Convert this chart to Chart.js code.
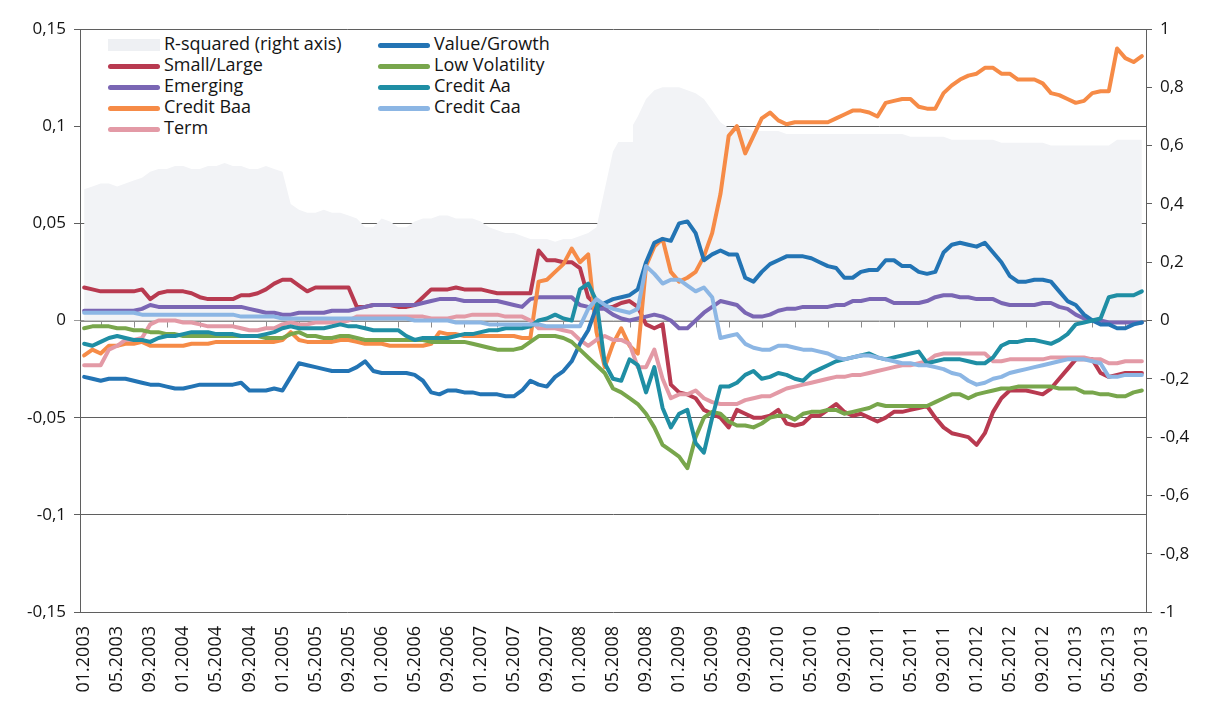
<!DOCTYPE html>
<html>
<head>
<meta charset="utf-8">
<title>Factor exposures 2003-2013</title>
<script src="https://cdn.jsdelivr.net/npm/chart.js@4.4.1/dist/chart.umd.min.js"></script>
<style>
  body { margin: 0; background: #fff; }
  #wrap { position: relative; width: 1209px; height: 710px; }
  #legend { position: absolute; background: #fff; font-family: 'Open Sans', sans-serif; font-size: 18px; color: #141414; }
  .item { position: absolute; height: 21px; line-height: 21px; white-space: nowrap; }
  .swatch { display: inline-block; width: 52px; height: 5px; border-radius: 3px; vertical-align: middle; margin-right: 4px; }
</style>
</head>
<body>
<div id="wrap">
  <canvas id="myChart" width="1209" height="710"></canvas>
  <div id="legend"></div>
</div>
<script>
'use strict';

// monthly points, 01.2003 - 09.2013
let months = [];
for (let y = 2003; y <= 2013; y++) {
  for (let m = 1; m <= 12; m++) {
    if (y === 2013 && m > 9) break;
    months.push((m < 10 ? '0' + m : '' + m) + '.' + y);
  }
}

let leftTickValues = [-0.15, -0.1, -0.05, 0, 0.05, 0.1, 0.15];
let leftTickLabels = ['-0,15', '-0,1', '-0,05', '0', '0,05', '0,1', '0,15'];
let rightTickValues = [-1, -0.8, -0.6, -0.4, -0.2, 0, 0.2, 0.4, 0.6, 0.8, 1];
let rightTickLabels = ['-1', '-0,8', '-0,6', '-0,4', '-0,2', '0', '0,2', '0,4', '0,6', '0,8', '1'];

// right axis
let rSquared = [
  0.45, 0.46, 0.47, 0.47, 0.46, 0.47, 0.48, 0.49, 0.51, 0.52, 0.52, 0.53,
  0.53, 0.52, 0.52, 0.53, 0.53, 0.54, 0.53, 0.53, 0.52, 0.52, 0.53, 0.52,
  0.51, 0.40, 0.38, 0.37, 0.37, 0.38, 0.37, 0.37, 0.36, 0.35, 0.32, 0.32,
  0.35, 0.34, 0.32, 0.32, 0.34, 0.35, 0.35, 0.36, 0.36, 0.35, 0.35, 0.35,
  0.34, 0.32, 0.31, 0.30, 0.30, 0.29, 0.28, 0.28, 0.28, 0.27, 0.28, 0.28,
  0.29, 0.30, 0.32, 0.45, 0.58, 0.63, 0.65, 0.70, 0.76, 0.79, 0.80, 0.80,
  0.80, 0.79, 0.78, 0.76, 0.72, 0.68, 0.66, 0.66, 0.66, 0.65, 0.65, 0.65,
  0.65, 0.64, 0.64, 0.64, 0.64, 0.64, 0.64, 0.64, 0.64, 0.64, 0.64, 0.64,
  0.64, 0.64, 0.64, 0.64, 0.63, 0.63, 0.63, 0.63, 0.63, 0.62, 0.62, 0.62,
  0.62, 0.62, 0.62, 0.61, 0.61, 0.61, 0.61, 0.61, 0.61, 0.60, 0.60, 0.60,
  0.60, 0.60, 0.60, 0.60, 0.60, 0.62, 0.62, 0.62, 0.62
];

// left axis
let smallLarge = [
  0.017, 0.016, 0.015, 0.015, 0.015, 0.015, 0.015, 0.016, 0.011, 0.014, 0.015, 0.015,
  0.015, 0.014, 0.012, 0.011, 0.011, 0.011, 0.011, 0.013, 0.013, 0.014, 0.016, 0.019,
  0.021, 0.021, 0.018, 0.015, 0.017, 0.017, 0.017, 0.017, 0.017, 0.007, 0.007, 0.008,
  0.008, 0.008, 0.007, 0.007, 0.008, 0.012, 0.016, 0.016, 0.016, 0.017, 0.016, 0.016,
  0.016, 0.015, 0.014, 0.014, 0.014, 0.014, 0.014, 0.036, 0.031, 0.031, 0.030, 0.030,
  0.027, 0.012, 0.008, 0.007, 0.007, 0.009, 0.010, 0.007, -0.002, -0.004, -0.002, -0.033,
  -0.037, -0.038, -0.040, -0.046, -0.048, -0.050, -0.055, -0.046, -0.048, -0.050, -0.050, -0.049,
  -0.046, -0.053, -0.054, -0.053, -0.049, -0.049, -0.046, -0.043, -0.047, -0.049, -0.048, -0.050,
  -0.052, -0.050, -0.047, -0.047, -0.046, -0.045, -0.044, -0.050, -0.055, -0.058, -0.059, -0.060,
  -0.064, -0.058, -0.047, -0.040, -0.036, -0.036, -0.036, -0.037, -0.038, -0.035, -0.030, -0.025,
  -0.020, -0.020, -0.020, -0.027, -0.029, -0.028, -0.027, -0.027, -0.027
];

let emerging = [
  0.005, 0.005, 0.005, 0.005, 0.005, 0.005, 0.005, 0.006, 0.008, 0.007, 0.007, 0.007,
  0.007, 0.007, 0.007, 0.007, 0.007, 0.007, 0.007, 0.007, 0.006, 0.005, 0.004, 0.004,
  0.003, 0.003, 0.004, 0.004, 0.004, 0.004, 0.005, 0.005, 0.005, 0.006, 0.007, 0.008,
  0.008, 0.008, 0.008, 0.008, 0.008, 0.009, 0.010, 0.011, 0.011, 0.011, 0.010, 0.010,
  0.010, 0.010, 0.010, 0.009, 0.008, 0.007, 0.011, 0.012, 0.012, 0.012, 0.012, 0.012,
  0.008, 0.007, 0.006, 0.006, 0.003, 0.001, 0.000, 0.001, 0.002, 0.003, 0.002, 0.000,
  -0.004, -0.004, 0.000, 0.004, 0.007, 0.010, 0.009, 0.008, 0.004, 0.002, 0.002, 0.003,
  0.005, 0.006, 0.006, 0.007, 0.007, 0.007, 0.007, 0.008, 0.008, 0.010, 0.010, 0.011,
  0.011, 0.011, 0.009, 0.009, 0.009, 0.009, 0.010, 0.012, 0.013, 0.013, 0.012, 0.012,
  0.011, 0.011, 0.011, 0.009, 0.008, 0.008, 0.008, 0.008, 0.009, 0.009, 0.007, 0.006,
  0.003, 0.001, 0.000, 0.000, -0.001, -0.001, -0.001, -0.001, -0.001
];

let creditBaa = [
  -0.018, -0.015, -0.017, -0.013, -0.013, -0.012, -0.012, -0.011, -0.013, -0.013, -0.013, -0.013,
  -0.013, -0.012, -0.012, -0.012, -0.011, -0.011, -0.011, -0.011, -0.011, -0.011, -0.011, -0.011,
  -0.010, -0.006, -0.010, -0.011, -0.011, -0.011, -0.011, -0.010, -0.010, -0.011, -0.012, -0.012,
  -0.012, -0.013, -0.013, -0.013, -0.013, -0.013, -0.012, -0.006, -0.007, -0.007, -0.008, -0.008,
  -0.008, -0.008, -0.008, -0.008, -0.008, -0.009, -0.009, 0.020, 0.021, 0.025, 0.029, 0.037,
  0.030, 0.034, -0.006, -0.024, -0.012, -0.004, -0.013, -0.017, 0.028, 0.038, 0.042, 0.025,
  0.020, 0.022, 0.025, 0.033, 0.045, 0.065, 0.095, 0.100, 0.086, 0.095, 0.104, 0.107,
  0.103, 0.101, 0.102, 0.102, 0.102, 0.102, 0.102, 0.104, 0.106, 0.108, 0.108, 0.107,
  0.105, 0.112, 0.113, 0.114, 0.114, 0.110, 0.109, 0.109, 0.117, 0.121, 0.124, 0.126,
  0.127, 0.130, 0.130, 0.127, 0.127, 0.124, 0.124, 0.124, 0.122, 0.117, 0.116, 0.114,
  0.112, 0.113, 0.117, 0.118, 0.118, 0.140, 0.135, 0.133, 0.136
];

let term = [
  -0.023, -0.023, -0.023, -0.015, -0.013, -0.010, -0.010, -0.009, -0.002, 0.000, 0.000, 0.000,
  -0.001, -0.001, -0.002, -0.003, -0.003, -0.003, -0.003, -0.004, -0.005, -0.005, -0.004, -0.004,
  -0.002, -0.001, -0.002, -0.002, -0.001, -0.001, -0.001, -0.001, 0.000, 0.002, 0.002, 0.002,
  0.002, 0.002, 0.002, 0.002, 0.002, 0.002, 0.001, 0.001, 0.001, 0.002, 0.002, 0.003,
  0.003, 0.003, 0.003, 0.002, 0.002, 0.002, 0.000, -0.004, -0.004, -0.004, -0.005, -0.006,
  -0.010, -0.013, -0.010, -0.008, -0.010, -0.010, -0.012, -0.024, -0.024, -0.015, -0.030, -0.040,
  -0.038, -0.038, -0.036, -0.040, -0.042, -0.043, -0.043, -0.043, -0.041, -0.040, -0.039, -0.039,
  -0.037, -0.035, -0.034, -0.033, -0.032, -0.031, -0.030, -0.029, -0.029, -0.028, -0.028, -0.027,
  -0.026, -0.025, -0.024, -0.023, -0.023, -0.022, -0.021, -0.018, -0.017, -0.017, -0.017, -0.017,
  -0.017, -0.017, -0.021, -0.021, -0.020, -0.020, -0.020, -0.020, -0.020, -0.019, -0.019, -0.019,
  -0.019, -0.019, -0.020, -0.020, -0.022, -0.022, -0.021, -0.021, -0.021
];

let valueGrowth = [
  -0.029, -0.030, -0.031, -0.030, -0.030, -0.030, -0.031, -0.032, -0.033, -0.033, -0.034, -0.035,
  -0.035, -0.034, -0.033, -0.033, -0.033, -0.033, -0.033, -0.032, -0.036, -0.036, -0.036, -0.035,
  -0.036, -0.029, -0.022, -0.023, -0.024, -0.025, -0.026, -0.026, -0.026, -0.024, -0.021, -0.026,
  -0.027, -0.027, -0.027, -0.027, -0.028, -0.031, -0.037, -0.038, -0.036, -0.036, -0.037, -0.037,
  -0.038, -0.038, -0.038, -0.039, -0.039, -0.036, -0.031, -0.033, -0.034, -0.029, -0.026, -0.021,
  -0.012, -0.005, 0.007, 0.009, 0.011, 0.012, 0.013, 0.016, 0.030, 0.040, 0.042, 0.041,
  0.050, 0.051, 0.045, 0.031, 0.034, 0.036, 0.034, 0.034, 0.022, 0.020, 0.025, 0.029,
  0.031, 0.033, 0.033, 0.033, 0.032, 0.030, 0.028, 0.027, 0.022, 0.022, 0.025, 0.026,
  0.026, 0.031, 0.031, 0.028, 0.028, 0.025, 0.024, 0.025, 0.035, 0.039, 0.040, 0.039,
  0.038, 0.040, 0.035, 0.030, 0.023, 0.020, 0.020, 0.021, 0.021, 0.020, 0.015, 0.010,
  0.008, 0.003, 0.000, -0.002, -0.002, -0.004, -0.004, -0.002, -0.001
];

let lowVolatility = [
  -0.004, -0.003, -0.003, -0.003, -0.004, -0.004, -0.005, -0.005, -0.006, -0.006, -0.007, -0.007,
  -0.008, -0.008, -0.008, -0.008, -0.008, -0.008, -0.008, -0.008, -0.008, -0.008, -0.009, -0.009,
  -0.009, -0.007, -0.006, -0.008, -0.008, -0.009, -0.009, -0.008, -0.008, -0.009, -0.010, -0.010,
  -0.010, -0.010, -0.010, -0.010, -0.010, -0.010, -0.011, -0.011, -0.011, -0.011, -0.011, -0.012,
  -0.013, -0.014, -0.015, -0.015, -0.015, -0.014, -0.011, -0.008, -0.008, -0.008, -0.009, -0.011,
  -0.015, -0.019, -0.023, -0.027, -0.035, -0.037, -0.040, -0.043, -0.048, -0.055, -0.064, -0.067,
  -0.070, -0.076, -0.060, -0.050, -0.047, -0.048, -0.052, -0.054, -0.054, -0.055, -0.053, -0.050,
  -0.049, -0.049, -0.051, -0.048, -0.047, -0.047, -0.046, -0.046, -0.048, -0.047, -0.046, -0.045,
  -0.043, -0.044, -0.044, -0.044, -0.044, -0.044, -0.044, -0.042, -0.040, -0.038, -0.038, -0.040,
  -0.038, -0.037, -0.036, -0.035, -0.035, -0.034, -0.034, -0.034, -0.034, -0.034, -0.035, -0.035,
  -0.035, -0.037, -0.037, -0.038, -0.038, -0.039, -0.039, -0.037, -0.036
];

let creditAa = [
  -0.012, -0.013, -0.011, -0.009, -0.008, -0.009, -0.010, -0.010, -0.011, -0.009, -0.008, -0.008,
  -0.007, -0.006, -0.006, -0.006, -0.007, -0.007, -0.007, -0.008, -0.008, -0.008, -0.007, -0.006,
  -0.004, -0.003, -0.004, -0.004, -0.004, -0.004, -0.003, -0.002, -0.003, -0.003, -0.004, -0.005,
  -0.005, -0.005, -0.005, -0.008, -0.010, -0.009, -0.009, -0.009, -0.009, -0.008, -0.007, -0.007,
  -0.006, -0.005, -0.005, -0.004, -0.004, -0.004, -0.003, 0.000, 0.001, 0.003, 0.001, 0.000,
  0.016, 0.019, 0.010, -0.022, -0.030, -0.031, -0.020, -0.023, -0.037, -0.024, -0.045, -0.055,
  -0.048, -0.046, -0.063, -0.068, -0.050, -0.034, -0.034, -0.032, -0.028, -0.026, -0.030, -0.029,
  -0.027, -0.028, -0.030, -0.031, -0.027, -0.025, -0.023, -0.021, -0.020, -0.019, -0.018, -0.017,
  -0.019, -0.020, -0.019, -0.018, -0.017, -0.016, -0.022, -0.021, -0.020, -0.020, -0.020, -0.021,
  -0.022, -0.022, -0.019, -0.013, -0.011, -0.011, -0.010, -0.010, -0.011, -0.012, -0.010, -0.007,
  -0.002, -0.001, 0.000, 0.001, 0.012, 0.013, 0.013, 0.013, 0.015
];

let creditCaa = [
  0.004, 0.004, 0.004, 0.004, 0.004, 0.004, 0.004, 0.003, 0.003, 0.003, 0.003, 0.003,
  0.003, 0.003, 0.003, 0.003, 0.003, 0.003, 0.003, 0.002, 0.002, 0.002, 0.002, 0.002,
  0.001, 0.001, 0.001, 0.001, 0.001, 0.001, 0.001, 0.001, 0.001, 0.001, 0.001, 0.001,
  0.001, 0.001, 0.001, 0.001, 0.000, 0.000, 0.000, 0.000, 0.000, -0.001, -0.001, -0.001,
  -0.001, -0.002, -0.002, -0.002, -0.002, -0.002, -0.002, -0.002, -0.003, -0.003, -0.003, -0.003,
  -0.003, 0.006, 0.011, 0.008, 0.006, 0.005, 0.004, 0.006, 0.028, 0.024, 0.019, 0.021,
  0.021, 0.018, 0.015, 0.017, 0.012, -0.009, -0.008, -0.007, -0.012, -0.014, -0.015, -0.015,
  -0.013, -0.013, -0.014, -0.015, -0.015, -0.016, -0.017, -0.019, -0.020, -0.019, -0.018, -0.018,
  -0.019, -0.020, -0.021, -0.022, -0.022, -0.023, -0.023, -0.024, -0.025, -0.027, -0.028, -0.031,
  -0.033, -0.032, -0.030, -0.029, -0.027, -0.026, -0.025, -0.024, -0.023, -0.022, -0.021, -0.020,
  -0.020, -0.020, -0.021, -0.022, -0.029, -0.029, -0.028, -0.028, -0.028
];

function lineSet(label, data, color, order) {
  return {
    type: 'line',
    label: label,
    data: data,
    borderColor: color,
    backgroundColor: color,
    borderWidth: 4,
    borderJoinStyle: 'round',
    borderCapStyle: 'round',
    pointRadius: 0,
    fill: false,
    tension: 0,
    yAxisID: 'y',
    order: order
  };
}

// x axis line sits on zero, ticks every 4 months
const zeroAxis = {
  id: 'zeroAxis',
  afterDatasetDraw(chart, args) {
    if (args.index !== 0) return;
    const { ctx, chartArea, scales } = chart;
    const y0 = Math.round(scales.y.getPixelForValue(0)) + 0.5;
    ctx.save();
    ctx.strokeStyle = '#8c8c8c';
    ctx.lineWidth = 1;
    ctx.beginPath();
    ctx.moveTo(chartArea.left, y0);
    ctx.lineTo(chartArea.right, y0);
    for (let i = 2; i < months.length; i += 4) {
      const x = Math.round(scales.x.getPixelForValue(i)) + 0.5;
      ctx.moveTo(x, y0);
      ctx.lineTo(x, y0 + 6);
    }
    ctx.stroke();
    ctx.restore();
  }
};

const tickFont = { family: 'Open Sans', size: 17 };

const ctx = document.getElementById('myChart');

let chart = new Chart(ctx, {
  type: 'line',
  data: {
    labels: months,
    datasets: [
      {
        type: 'line',
        label: 'R-squared (right axis)',
        data: rSquared,
        yAxisID: 'y1',
        fill: 'origin',
        backgroundColor: '#f2f3f6',
        borderColor: '#f2f3f6',
        borderWidth: 0,
        pointRadius: 0,
        tension: 0,
        order: 20
      },
      lineSet('Small/Large', smallLarge, '#b83a50', 9),
      lineSet('Emerging', emerging, '#7a66b4', 8),
      lineSet('Credit Baa', creditBaa, '#f68b47', 7),
      lineSet('Term', term, '#e39aa6', 6),
      lineSet('Value/Growth', valueGrowth, '#2374b4', 5),
      lineSet('Low Volatility', lowVolatility, '#78a64c', 4),
      lineSet('Credit Aa', creditAa, '#1f8ea4', 3),
      lineSet('Credit Caa', creditCaa, '#8cb6e4', 2)
    ]
  },
  options: {
    responsive: false,
    animation: false,
    layout: { padding: { top: 29, left: 0, right: 0, bottom: 0 } },
    plugins: {
      legend: { display: false },
      tooltip: { enabled: false }
    },
    scales: {
      x: {
        offset: true,
        afterFit: function(scale) { scale.height = 98; },
        grid: { display: false },
        border: { display: false },
        ticks: {
          autoSkip: false,
          maxRotation: 90,
          minRotation: 90,
          padding: 6,
          color: '#141414',
          font: { family: 'Open Sans', size: 18 },
          callback: function(value, index) {
            return index % 4 === 0 ? months[index] : '';
          }
        }
      },
      y: {
        position: 'left',
        min: -0.15,
        max: 0.15,
        afterBuildTicks: function(scale) {
          scale.ticks = leftTickValues.map(function(v) { return { value: v }; });
        },
        afterFit: function(scale) { scale.width = 80; },
        ticks: {
          padding: 8,
          color: '#141414',
          font: tickFont,
          callback: function(value, index) { return leftTickLabels[index]; }
        },
        grid: {
          tickLength: 6,
          color: function(c) {
            return c.tick && c.tick.value === 0 ? '#9a9a9a' : '#5f5f5f';
          }
        },
        border: { color: '#5f5f5f' }
      },
      y1: {
        position: 'right',
        min: -1,
        max: 1,
        afterBuildTicks: function(scale) {
          scale.ticks = rightTickValues.map(function(v) { return { value: v }; });
        },
        afterFit: function(scale) { scale.width = 63; },
        ticks: {
          padding: 8,
          color: '#141414',
          font: tickFont,
          callback: function(value, index) { return rightTickLabels[index]; }
        },
        grid: { drawOnChartArea: false, tickLength: 6, color: '#5f5f5f' },
        border: { color: '#5f5f5f' }
      }
    }
  },
  plugins: [zeroAxis]
});

// legend box in two columns, white background like the original
function renderLegend(chart) {
  let box = document.getElementById('legend');
  let area = chart.chartArea;
  box.style.left = (area.left + 1) + 'px';
  box.style.top = (area.top + 1) + 'px';
  box.style.width = '552px';
  box.style.height = '112px';
  chart.data.datasets.forEach(function(ds, i) {
    let col = i < 5 ? 0 : 1;
    let row = i < 5 ? i : i - 5;
    let item = document.createElement('div');
    item.className = 'item';
    item.style.left = (col === 0 ? 27 : 297) + 'px';
    item.style.top = (3 + row * 21) + 'px';
    let sw = document.createElement('span');
    sw.className = 'swatch';
    if (ds.fill) {
      sw.style.background = '#eef0f3';
      sw.style.height = '12px';
      sw.style.borderRadius = '0';
    } else {
      sw.style.background = ds.borderColor;
    }
    item.appendChild(sw);
    item.appendChild(document.createTextNode(ds.label));
    box.appendChild(item);
  });
}

renderLegend(chart);
</script>
</body>
</html>
